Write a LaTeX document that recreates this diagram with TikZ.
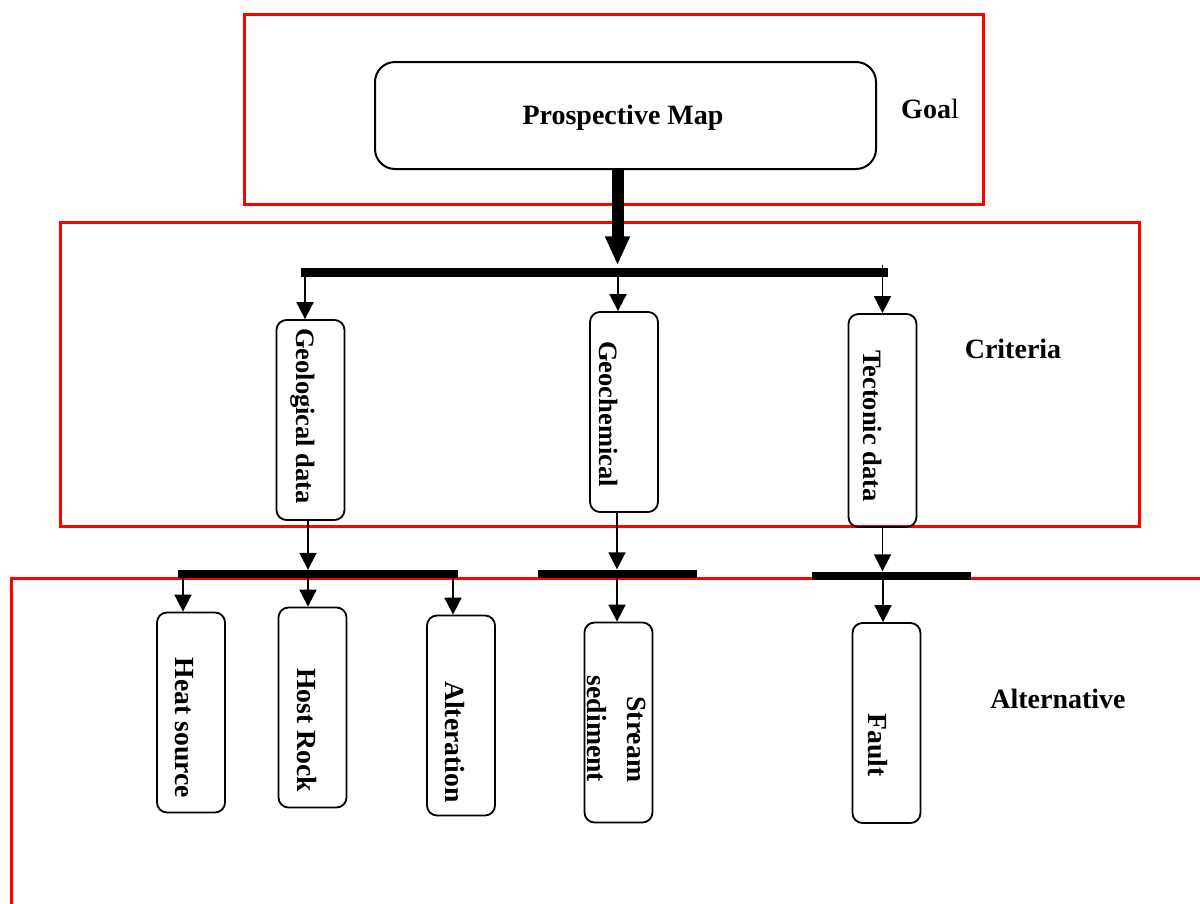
\documentclass[tikz,border=0pt]{standalone}
\usepackage{fontspec}
\setmainfont{Liberation Serif}
\usetikzlibrary{arrows.meta}
\begin{document}
\begin{tikzpicture}[x=1pt,y=-1pt,
 redbox/.style={draw=red, line width=3pt},
 vbox/.style={draw, rounded corners=10pt, line width=1.8pt, minimum width=68pt, minimum height=200pt, inner sep=0pt},
 vtext/.style={rotate=-90, font=\bfseries\fontsize{26.5}{30}\selectfont, inner sep=0pt},
 atext/.style={rotate=-90, font=\bfseries\fontsize{27.7}{40}\selectfont, inner sep=0pt, align=right},
 lbl/.style={font=\bfseries\fontsize{28}{32}\selectfont, inner sep=0pt, anchor=base},
 hbar/.style={fill=black, minimum height=8pt, inner sep=0pt},
 arr/.style={line width=1.8pt, -{Triangle[width=17pt,length=17pt]}}
]
\useasboundingbox (0,0) rectangle (1200,903);
\fill[white] (0,0) rectangle (1200,903);
% red frames
\draw[redbox] (244,14) rectangle (983,204);
\draw[redbox] (60,222) rectangle (1139,526);
\draw[redbox] (1210,578) -- (11,578) -- (11,910);
% goal
\node[draw, rounded corners=20pt, line width=2pt, minimum width=501pt, minimum height=107pt, inner sep=0pt] (pm) at (625.5,115.5) {};
\node[lbl] (pmt) at (623,124) {Prospective Map};
\node[lbl] (goal) at (930,118) {Goa\mdseries l};
\node[lbl] (crit) at (1013,358) {Criteria};
\node[lbl] (alt) at (1058,708) {Alternative};
% bars
\node[hbar, minimum width=587pt, minimum height=9pt] (topbar) at (594.5,272) {};
\node[hbar, minimum width=280pt] (bar1) at (318,574) {};
\node[hbar, minimum width=159pt] (bar2) at (617.5,573.5) {};
\node[hbar, minimum width=159pt] (bar3) at (891.5,575.5) {};
% criteria boxes
\node[vbox] (geo) at (310.5,420) {};
\node[vtext] (geot) at (303,416) {Geological data};
\node[vbox] (gch) at (624,412) {};
\node[vtext] (gcht) at (609,414) {Geochemical};
\node[vbox, minimum height=213pt] (tec) at (882.5,420.5) {};
\node[vtext] (tect) at (873,426) {Tectonic data};
% alternative boxes
\node[vbox] (heat) at (191,712.5) {};
\node[atext] (heatt) at (184,728) {Heat source};
\node[vbox] (host) at (312.5,707.5) {};
\node[atext] (hostt) at (307,730) {Host Rock};
\node[vbox] (alter) at (461,715.5) {};
\node[atext] (altert) at (455,742) {Alteration};
\node[vbox] (strm) at (618.5,722.5) {};
\node[atext] (strmt) at (617,729) {Stream\\sediment};
\node[vbox] (fault) at (886.5,723) {};
\node[atext] (faultt) at (878,745) {Fault};
% main arrow
\draw[line width=12pt, -{Triangle[width=23pt,length=29pt]}, shorten >=2pt] ([xshift=-8pt]pm.south) -- ([xshift=-8pt]pm.south |- topbar.north);
% top bar to criteria
\draw[arr] ([xshift=-5.5pt]geo.north |- topbar.center) -- ([xshift=-5.5pt]geo.north);
\draw[arr] ([xshift=-6pt]gch.north |- topbar.center) -- ([xshift=-6pt]gch.north);
\draw[arr] ([yshift=7pt]tec.north |- topbar.center) -- (tec.north);
% criteria to bars
\draw[arr] ([xshift=-2.5pt]geo.south) -- ([xshift=-2.5pt]geo.south |- bar1.north);
\draw[arr] ([xshift=-7pt]gch.south) -- ([xshift=-7pt]gch.south |- bar2.north);
\draw[arr] (tec.south) -- (tec.south |- bar3.north);
% bars to alternatives
\draw[arr] ([xshift=-8pt]heat.north |- bar1.center) -- ([xshift=-8pt]heat.north);
\draw[arr] ([xshift=-4.5pt]host.north |- bar1.center) -- ([xshift=-4.5pt]host.north);
\draw[arr] ([xshift=-8pt]alter.north |- bar1.center) -- ([xshift=-8pt]alter.north);
\draw[arr] ([xshift=-1.5pt]strm.north |- bar2.center) -- ([xshift=-1.5pt]strm.north);
\draw[arr] ([xshift=-3.5pt]fault.north |- bar3.center) -- ([xshift=-3.5pt]fault.north);
\end{tikzpicture}
\end{document}
